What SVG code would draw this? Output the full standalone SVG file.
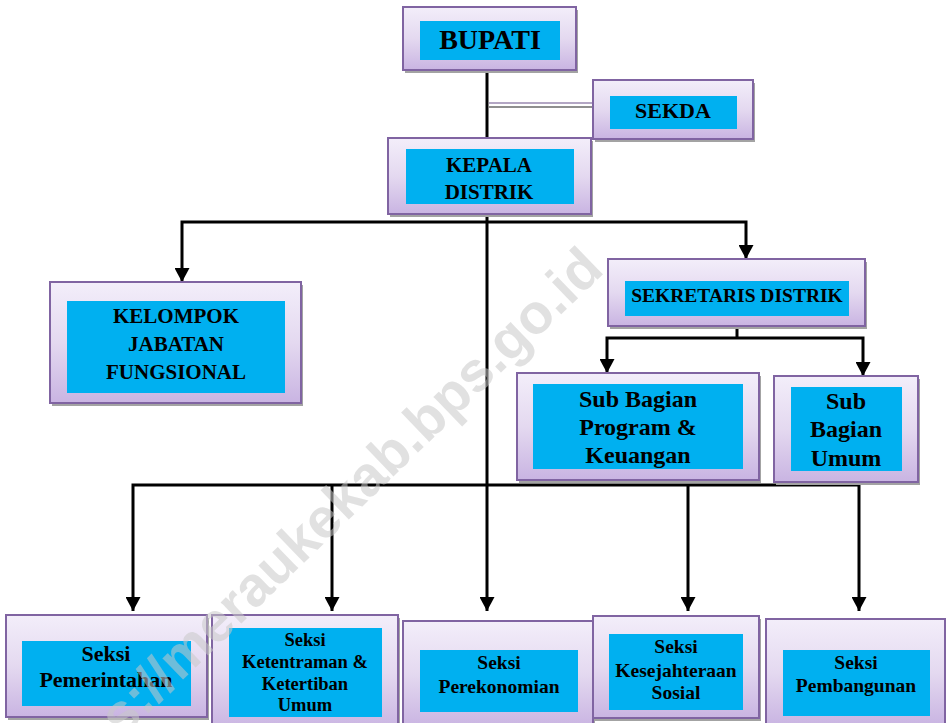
<svg xmlns="http://www.w3.org/2000/svg" width="946" height="723" viewBox="0 0 946 723">
<style>
.box{fill:url(#g);stroke:#8064a2;stroke-width:2}
.sh{fill:#a3a3a3}
.in{fill:#00b0f0}
.t{font-family:"Liberation Serif","DejaVu Serif",serif;font-weight:bold;fill:#000;text-anchor:middle}
.ln{stroke:#000;stroke-width:3;fill:none}
.ar{stroke:#000;stroke-width:3;fill:none;marker-end:url(#a)}
.wm{font-family:"Liberation Sans",Arial,sans-serif;font-weight:bold;fill:#c8c8c8;fill-opacity:0.55}
</style>
<defs>
<linearGradient id="g" x1="0" y1="0" x2="0" y2="1">
<stop offset="0" stop-color="#f3eefa"/>
<stop offset="0.5" stop-color="#e4d9f0"/>
<stop offset="1" stop-color="#c9b4e2"/>
</linearGradient>
<marker id="a" viewBox="0 0 14 15" refX="14" refY="7.5" markerWidth="14" markerHeight="15" markerUnits="userSpaceOnUse" orient="auto">
<path d="M0,0L14,7.5L0,15z" fill="#000"/>
</marker>
</defs>
<rect width="946" height="723" fill="#fff"/>
<g id="connectors">
<line class="ln" x1="487" y1="70" x2="487" y2="138"/>
<line x1="489" y1="103" x2="593" y2="103" stroke="#b3a6c4" stroke-width="2"/>
<line x1="489" y1="107" x2="593" y2="107" stroke="#8f8f8f" stroke-width="2"/>
<line class="ar" x1="487" y1="214" x2="487" y2="611"/>
<polyline class="ar" points="487,222 182,222 182,282"/>
<polyline class="ar" points="487,222 746,222 746,259"/>
<line class="ln" x1="737" y1="326" x2="737" y2="338"/>
<polyline class="ar" points="737,338 607,338 607,373"/>
<polyline class="ar" points="737,338 863,338 863,376"/>
<polyline class="ar" points="487,485 133,485 133,611"/>
<line class="ar" x1="332" y1="485" x2="332" y2="611"/>
<polyline class="ar" points="487,485 859,485 859,611"/>
<line class="ar" x1="688" y1="485" x2="688" y2="611"/>
</g>
<g id="bupati">
<rect class="sh" x="405" y="10" width="173" height="63"/>
<rect class="box" x="403" y="7" width="173" height="63"/>
<rect class="in" x="420" y="21" width="140" height="39"/>
<text class="t" x="490" y="49" font-size="28">BUPATI</text>
</g>
<g id="sekda">
<rect class="sh" x="595" y="83" width="160" height="59"/>
<rect class="box" x="593" y="80" width="160" height="59"/>
<rect class="in" x="610" y="96" width="127" height="33"/>
<text class="t" x="673" y="118" font-size="22">SEKDA</text>
</g>
<g id="kepala">
<rect class="sh" x="390" y="141" width="203" height="76"/>
<rect class="box" x="388" y="138" width="203" height="76"/>
<rect class="in" x="406" y="149" width="168" height="55"/>
<text class="t" x="489" y="172" font-size="21">KEPALA</text>
<text class="t" x="489" y="199" font-size="21">DISTRIK</text>
</g>
<g id="kelompok">
<rect class="sh" x="52" y="285" width="251" height="121"/>
<rect class="box" x="50" y="282" width="251" height="121"/>
<rect class="in" x="67" y="301" width="218" height="92"/>
<text class="t" x="176" y="323" font-size="21">KELOMPOK</text>
<text class="t" x="176" y="351" font-size="21">JABATAN</text>
<text class="t" x="176" y="379" font-size="21">FUNGSIONAL</text>
</g>
<g id="sekretaris">
<rect class="sh" x="610" y="262" width="257" height="67"/>
<rect class="box" x="608" y="259" width="257" height="67"/>
<rect class="in" x="625" y="281" width="224" height="35"/>
<text class="t" x="737" y="302" font-size="19.5">SEKRETARIS DISTRIK</text>
</g>
<g id="subbagprogram">
<rect class="sh" x="519" y="376" width="242" height="107"/>
<rect class="box" x="517" y="373" width="242" height="107"/>
<rect class="in" x="533" y="384" width="210" height="85"/>
<text class="t" x="638" y="407" font-size="24">Sub Bagian</text>
<text class="t" x="638" y="435" font-size="24">Program &amp;</text>
<text class="t" x="638" y="463" font-size="24">Keuangan</text>
</g>
<g id="subbagumum">
<rect class="sh" x="776" y="379" width="144" height="106"/>
<rect class="box" x="774" y="376" width="144" height="106"/>
<rect class="in" x="791" y="387" width="111" height="84"/>
<text class="t" x="846" y="409" font-size="24">Sub</text>
<text class="t" x="846" y="437" font-size="24">Bagian</text>
<text class="t" x="846" y="466" font-size="24">Umum</text>
</g>
<g id="pemerintahan">
<rect class="sh" x="8" y="618" width="201" height="102"/>
<rect class="box" x="6" y="615" width="201" height="102"/>
<rect class="in" x="22" y="641" width="169" height="65"/>
<text class="t" x="106" y="661" font-size="22">Seksi</text>
<text class="t" x="106" y="687" font-size="22">Pemerintahan</text>
</g>
<g id="ketentraman">
<rect class="sh" x="214" y="618" width="186" height="115"/>
<rect class="box" x="212" y="615" width="186" height="115"/>
<rect class="in" x="229" y="628" width="153" height="89"/>
<text class="t" x="305" y="646" font-size="18.5">Seksi</text>
<text class="t" x="305" y="668" font-size="18.5">Ketentraman &amp;</text>
<text class="t" x="305" y="690" font-size="18.5">Ketertiban</text>
<text class="t" x="305" y="711" font-size="18.5">Umum</text>
</g>
<g id="perekonomian">
<rect class="sh" x="405" y="624" width="190" height="106"/>
<rect class="box" x="403" y="621" width="190" height="106"/>
<rect class="in" x="420" y="650" width="158" height="62"/>
<text class="t" x="499" y="669" font-size="19.5">Seksi</text>
<text class="t" x="499" y="693" font-size="19.5">Perekonomian</text>
</g>
<g id="kesejahteraan">
<rect class="sh" x="595" y="619" width="166" height="102"/>
<rect class="box" x="593" y="616" width="166" height="102"/>
<rect class="in" x="609" y="634" width="134" height="76"/>
<text class="t" x="676" y="653" font-size="19.5">Seksi</text>
<text class="t" x="676" y="677" font-size="19.5">Kesejahteraan</text>
<text class="t" x="676" y="699" font-size="19.5">Sosial</text>
</g>
<g id="pembangunan">
<rect class="sh" x="768" y="622" width="180" height="107"/>
<rect class="box" x="766" y="619" width="179" height="107"/>
<rect class="in" x="783" y="650" width="147" height="66"/>
<text class="t" x="856" y="669" font-size="19.5">Seksi</text>
<text class="t" x="856" y="692" font-size="19.5">Pembangunan</text>
</g>
<text class="wm" font-size="56" transform="translate(46,812) rotate(-44)">https://meraukekab.bps.go.id</text>
</svg>
